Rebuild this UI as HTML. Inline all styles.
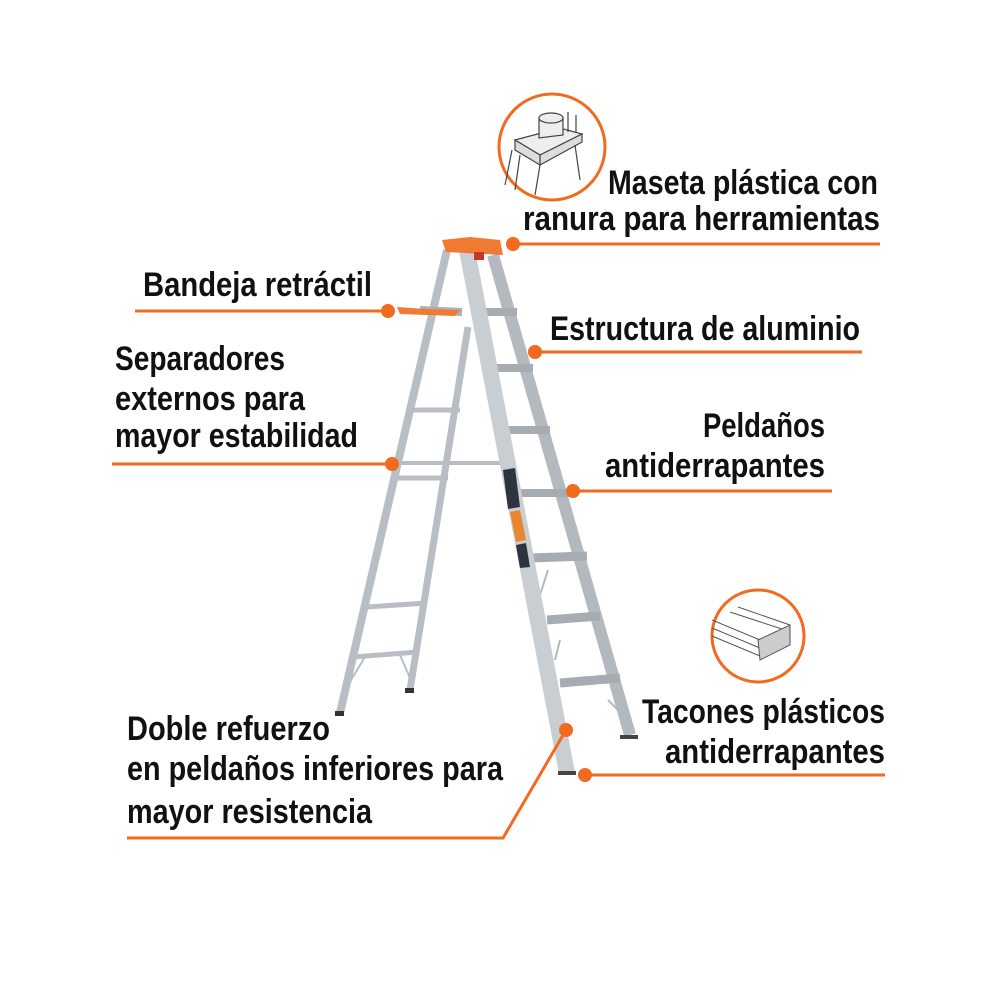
<!DOCTYPE html>
<html><head><meta charset="utf-8"><style>
html,body{margin:0;padding:0;background:#fff;}
svg{display:block}
text{font-family:"Liberation Sans Narrow","Liberation Sans",sans-serif;font-size:34px;font-weight:bold;fill:#111;}
</style></head><body>
<svg width="1000" height="1000" viewBox="0 0 1000 1000">
<!-- Back legs -->
<g stroke="#b9bec4" stroke-linecap="butt" fill="none">
 <path d="M447,250 L340,713" stroke-width="8"/>
 <path d="M468,327 L410,690" stroke-width="7"/>
 <path d="M412,410 L460,410" stroke-width="5"/>
 <path d="M392,463 L500,463" stroke-width="4"/>
 <path d="M397,478 L448,478" stroke-width="5"/>
 <path d="M367,607 L427,603" stroke-width="5"/>
 <path d="M353,657 L418,652" stroke-width="5"/>
 <path d="M345,690 L365,657 M400,655 L410,678" stroke-width="2"/>
 <path d="M420,310 L462,312" stroke-width="8" stroke="#aab0b6"/>
</g>
<rect x="335" y="711" width="9" height="5" fill="#333"/>
<rect x="405" y="688" width="9" height="5" fill="#333"/>
<!-- Front section -->
<g fill="none">
 <path d="M493,255 L630,735" stroke="#b4b9bf" stroke-width="12"/>
 <path d="M480,312 L517,312" stroke="#a7acb2" stroke-width="8"/>
 <path d="M493,368 L533,368" stroke="#a7acb2" stroke-width="8"/>
 <path d="M507,430 L550,430" stroke="#a7acb2" stroke-width="8"/>
 <path d="M517,493 L570,493" stroke="#a7acb2" stroke-width="8"/>
 <path d="M530,558 L587,556" stroke="#a7acb2" stroke-width="9"/>
 <path d="M547,620 L600,616" stroke="#a7acb2" stroke-width="9"/>
 <path d="M560,683 L620,678" stroke="#a7acb2" stroke-width="9"/>
 <path d="M608,700 L630,722 M540,595 L548,570 M555,660 L560,640" stroke="#b4b9bf" stroke-width="2"/>
 <path d="M467,250 L567,773" stroke="#c9ced3" stroke-width="16"/>
</g>
<path d="M503,470 L515,468 L520,507 L508,509 Z" fill="#2d3440"/>
<path d="M510,512 L520,510 L526,540 L516,542 Z" fill="#e8872f"/>
<path d="M516,545 L526,543 L530,567 L520,568 Z" fill="#2d3440"/>
<rect x="620" y="735" width="18" height="4" fill="#444"/>
<rect x="558" y="771" width="18" height="4" fill="#444"/>
<!-- top cap -->
<path d="M442,240 L470,237 L500,240 L503,255 L446,252 Z" fill="#f07a32"/>
<rect x="474" y="252" width="10" height="8" fill="#c0392b"/>
<path d="M397,307 L425,309 L460,310 L455,316 L400,314 Z" fill="#f07a32"/>
<!-- orange connectors -->
<g stroke="#f26a1e" stroke-width="3" fill="none">
 <path d="M513,244 L880,244"/>
 <path d="M135,311 L388,311"/>
 <path d="M535,352 L862,352"/>
 <path d="M112,464 L392,464"/>
 <path d="M573,491 L832,491"/>
 <path d="M585,775 L885,775"/>
 <path d="M127,838 L503,838 L566,730"/>
 <circle cx="552" cy="147" r="53"/>
 <circle cx="758" cy="636" r="46"/>
</g>
<g fill="#f26a1e">
 <circle cx="513" cy="244" r="7"/><circle cx="388" cy="311" r="7"/>
 <circle cx="535" cy="352" r="7"/><circle cx="392" cy="464" r="7"/>
 <circle cx="573" cy="491" r="7"/><circle cx="585" cy="775" r="7"/>
 <circle cx="566" cy="730" r="7"/>
</g>
<!-- icon 1 -->
<g stroke="#444" stroke-width="1.2" fill="#eee">
 <path d="M515,140 L560,128 L582,134 L540,155 Z"/>
 <path d="M540,155 L582,134 L582,142 L540,165 Z" fill="#ddd"/>
 <path d="M515,140 L540,155 L540,165 L515,150 Z" fill="#ddd"/>
 <path d="M539,118 L539,138 L563,135 L563,118 Z"/>
 <ellipse cx="551" cy="118" rx="12" ry="5"/>
 <path d="M568,112 L568,132 M576,115 L576,132" fill="none"/>
 <path d="M512,150 L505,185 M520,155 L515,190 M540,165 L535,195 M575,145 L580,180" fill="none"/>
</g>
<!-- icon 2 -->
<g stroke="#555" stroke-width="1" fill="none">
 <path d="M712,620 L760,640 M712,628 L760,648 M712,636 L760,656 M730,612 L785,630 M738,607 L790,625"/>
 <path d="M758,640 L790,625 L790,645 L760,660 Z" fill="#ccc"/>
</g>
<!-- labels -->
<text x="608" y="194" textLength="270" lengthAdjust="spacingAndGlyphs">Maseta plástica con</text>
<text x="523" y="230" textLength="357" lengthAdjust="spacingAndGlyphs">ranura para herramientas</text>
<text x="143" y="296" textLength="229" lengthAdjust="spacingAndGlyphs">Bandeja retráctil</text>
<text x="550" y="340" textLength="310" lengthAdjust="spacingAndGlyphs">Estructura de aluminio</text>
<text x="115" y="370" textLength="170" lengthAdjust="spacingAndGlyphs">Separadores</text>
<text x="115" y="410" textLength="190" lengthAdjust="spacingAndGlyphs">externos para</text>
<text x="115" y="447" textLength="243" lengthAdjust="spacingAndGlyphs">mayor estabilidad</text>
<text x="703" y="437" textLength="122" lengthAdjust="spacingAndGlyphs">Peldaños</text>
<text x="605" y="477" textLength="220" lengthAdjust="spacingAndGlyphs">antiderrapantes</text>
<text x="642" y="723" textLength="243" lengthAdjust="spacingAndGlyphs">Tacones plásticos</text>
<text x="665" y="763" textLength="220" lengthAdjust="spacingAndGlyphs">antiderrapantes</text>
<text x="127" y="740" textLength="203" lengthAdjust="spacingAndGlyphs">Doble refuerzo</text>
<text x="127" y="780" textLength="376" lengthAdjust="spacingAndGlyphs">en peldaños inferiores para</text>
<text x="127" y="823" textLength="245" lengthAdjust="spacingAndGlyphs">mayor resistencia</text>
</svg>
</body></html>
